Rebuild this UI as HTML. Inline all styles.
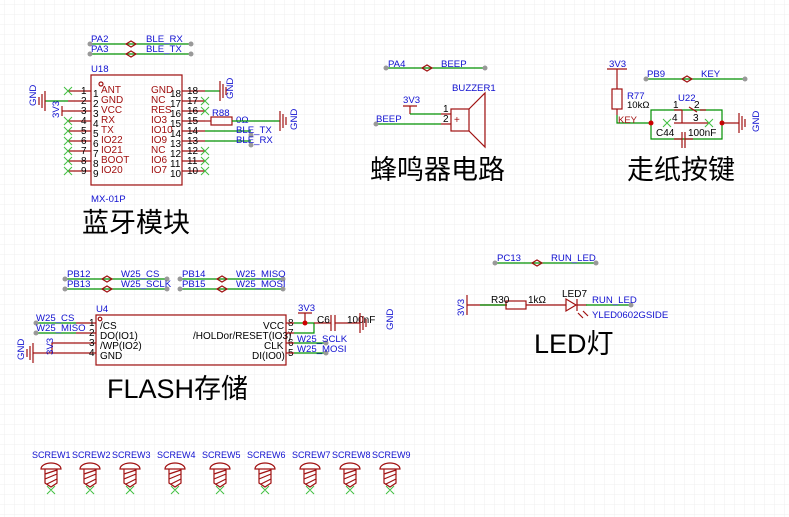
<!DOCTYPE html>
<html><head><meta charset="utf-8"><style>
html,body{margin:0;padding:0;background:#fff;}
svg{display:block;font-family:"Liberation Sans","Noto Sans CJK SC",sans-serif;}
.w{stroke:#009000;stroke-width:1.2;fill:none}
.r{stroke:#a01010;stroke-width:1.2;fill:none}
.n{fill:#1010d0;font-size:9.6px}
.p{fill:#000;font-size:10px}
.pn{fill:#a01010;font-size:10px}
.x{stroke:#40c040;stroke-width:1}
.d{fill:#999}
.t{fill:#000;font-size:27px}
</style></head><body>
<svg width="789" height="517" viewBox="0 0 789 517" xmlns="http://www.w3.org/2000/svg">
<defs>
<pattern id="g" x="4" y="4" width="10" height="10" patternUnits="userSpaceOnUse">
<path d="M10 0H0V10" fill="none" stroke="#efefef" stroke-width="1"/>
</pattern>
</defs>
<rect width="789" height="517" fill="url(#g)"/>

<line class="w" x1="90" y1="44" x2="191" y2="44"/><line class="w" x1="90" y1="54" x2="191" y2="54"/>
<path class="r" d="M126 44l5-3 5 3-5 3z M126 54l5-3 5 3-5 3z" fill="#fff"/>
<circle class="d" cx="90" cy="44" r="2.5"/><circle class="d" cx="191" cy="44" r="2.5"/>
<circle class="d" cx="90" cy="54" r="2.5"/><circle class="d" cx="191" cy="54" r="2.5"/>
<text class="n" x="91" y="42">PA2</text><text class="n" x="146" y="42">BLE_RX</text>
<text class="n" x="91" y="52">PA3</text><text class="n" x="146" y="52">BLE_TX</text>

<text class="n" x="91" y="72">U18</text>
<rect class="r" x="91" y="75" width="91" height="110"/>
<circle class="r" cx="101" cy="84" r="2"/>
<g class="r">
<line x1="68" y1="91" x2="91" y2="91"/><line x1="68" y1="101" x2="91" y2="101"/><line x1="68" y1="111" x2="91" y2="111"/><line x1="68" y1="121" x2="91" y2="121"/><line x1="68" y1="131" x2="91" y2="131"/><line x1="68" y1="141" x2="91" y2="141"/><line x1="68" y1="151" x2="91" y2="151"/><line x1="68" y1="161" x2="91" y2="161"/><line x1="68" y1="171" x2="91" y2="171"/>
<line x1="182" y1="91" x2="205" y2="91"/><line x1="182" y1="101" x2="205" y2="101"/><line x1="182" y1="111" x2="205" y2="111"/><line x1="182" y1="121" x2="205" y2="121"/><line x1="182" y1="131" x2="205" y2="131"/><line x1="182" y1="141" x2="205" y2="141"/><line x1="182" y1="151" x2="205" y2="151"/><line x1="182" y1="161" x2="205" y2="161"/><line x1="182" y1="171" x2="205" y2="171"/>
</g>
<g class="p">
<text x="81" y="94">1</text><text x="81" y="104">2</text><text x="81" y="114">3</text><text x="81" y="124">4</text><text x="81" y="134">5</text><text x="81" y="144">6</text><text x="81" y="154">7</text><text x="81" y="164">8</text><text x="81" y="174">9</text>
<text x="93" y="97">1</text><text x="93" y="107">2</text><text x="93" y="117">3</text><text x="93" y="127">4</text><text x="93" y="137">5</text><text x="93" y="147">6</text><text x="93" y="157">7</text><text x="93" y="167">8</text><text x="93" y="177">9</text>
<text x="187" y="94">18</text><text x="187" y="104">17</text><text x="187" y="114">16</text><text x="187" y="124">15</text><text x="187" y="134">14</text><text x="187" y="144">13</text><text x="187" y="154">12</text><text x="187" y="164">11</text><text x="187" y="174">10</text>
<text x="170" y="97">18</text><text x="170" y="107">17</text><text x="170" y="117">16</text><text x="170" y="127">15</text><text x="170" y="137">14</text><text x="170" y="147">13</text><text x="170" y="157">12</text><text x="170" y="167">11</text><text x="170" y="177">10</text>
</g>
<g class="pn">
<text x="101" y="93">ANT</text><text x="101" y="103">GND</text><text x="101" y="113">VCC</text><text x="101" y="123">RX</text><text x="101" y="133">TX</text><text x="101" y="143">IO22</text><text x="101" y="153">IO21</text><text x="101" y="163">BOOT</text><text x="101" y="173">IO20</text>
<text x="151" y="93">GND</text><text x="151" y="103">NC</text><text x="151" y="113">RES</text><text x="151" y="123">IO3</text><text x="151" y="133">IO10</text><text x="151" y="143">IO9</text><text x="151" y="153">NC</text><text x="151" y="163">IO6</text><text x="151" y="173">IO7</text>
</g>
<g class="x">
<path d="M64 87l8 8M72 87l-8 8"/>
<path d="M64 127l8 8M72 127l-8 8M64 137l8 8M72 137l-8 8M64 147l8 8M72 147l-8 8M64 157l8 8M72 157l-8 8M64 167l8 8M72 167l-8 8"/>
<path d="M64 117l8 8M72 117l-8 8"/>
<path d="M201 97l8 8M209 97l-8 8M201 107l8 8M209 107l-8 8M201 147l8 8M209 147l-8 8M201 157l8 8M209 157l-8 8M201 167l8 8M209 167l-8 8"/>
</g>
<line class="w" x1="45" y1="101" x2="68" y2="101"/>
<path class="r" d="M45 91v20M42 94v14M39 97v8"/>
<text class="n" transform="translate(36,106) rotate(-90)">GND</text>
<line class="r" x1="62" y1="111" x2="68" y2="111"/><path class="r" d="M62 106v10"/>
<text class="n" transform="translate(59,118) rotate(-90)">3V3</text>
<line class="w" x1="205" y1="91" x2="220" y2="91"/>
<path class="r" d="M220 81v20M223 84v14M226 87v8"/>
<text class="n" transform="translate(233,99) rotate(-90)">GND</text>
<rect class="r" x="211" y="117" width="21" height="8"/>
<line class="r" x1="205" y1="121" x2="211" y2="121"/>
<text class="n" x="212" y="116">R88</text><text class="n" x="236" y="123">0Ω</text>
<line class="w" x1="232" y1="121" x2="280" y2="121"/>
<path class="r" d="M280 111v20M283 114v14M286 117v8"/>
<text class="n" transform="translate(297,130) rotate(-90)">GND</text>
<line class="w" x1="205" y1="131" x2="251" y2="131"/><line class="w" x1="205" y1="141" x2="251" y2="141"/>
<circle class="d" cx="251" cy="135" r="2.5"/><circle class="d" cx="251" cy="145" r="2.5"/>
<text class="n" x="236" y="133">BLE_TX</text><text class="n" x="236" y="143">BLE_RX</text>
<text class="n" x="91" y="202">MX-01P</text>
<text class="t" x="82" y="232">蓝牙模块</text>

<line class="w" x1="386" y1="68" x2="485" y2="68"/>
<path class="r" d="M422 68l5-3 5 3-5 3z" fill="#fff"/>
<circle class="d" cx="386" cy="68" r="2.5"/><circle class="d" cx="485" cy="68" r="2.5"/>
<text class="n" x="388" y="67">PA4</text><text class="n" x="441" y="67">BEEP</text>
<text class="n" x="452" y="91">BUZZER1</text>
<text class="n" x="403" y="103">3V3</text>
<path class="r" d="M403 106h14M410 106v8"/>
<path class="w" d="M410 114h31"/>
<path class="w" d="M376 124h65"/>
<path class="r" d="M441 114h10M441 124h10"/>
<circle class="d" cx="376" cy="124" r="2.5"/>
<text class="n" x="376" y="122">BEEP</text>
<text class="p" x="443" y="112">1</text><text class="p" x="443" y="122">2</text>
<rect class="r" x="451" y="109" width="18" height="22"/>
<path class="r" d="M469 109l16-16v54l-16-16"/>
<text class="pn" x="454" y="123">+</text>
<text class="t" x="370" y="179">蜂鸣器电路</text>

<text class="n" x="609" y="67">3V3</text>
<path class="r" d="M607 69h20M617 69v20"/>
<rect class="r" x="612" y="89" width="10" height="20"/>
<line class="r" x1="617" y1="109" x2="617" y2="115"/>
<path class="w" d="M617 115v8h34"/>
<text class="pn" x="618" y="123" style="font-size:9.5px">KEY</text>
<text class="n" x="627" y="99">R77</text><text class="p" x="627" y="108" style="font-size:9.5px">10kΩ</text>
<line class="w" x1="646" y1="79" x2="745" y2="79"/>
<path class="r" d="M682 79l5-3 5 3-5 3z" fill="#fff"/>
<circle class="d" cx="646" cy="79" r="2.5"/><circle class="d" cx="745" cy="79" r="2.5"/>
<text class="n" x="647" y="77">PB9</text><text class="n" x="701" y="77">KEY</text>
<path class="w" d="M651 123v-13h71v29h-71z"/>
<circle cx="651" cy="123" r="2.5" fill="#c00"/><circle cx="722" cy="123" r="2.5" fill="#c00"/>
<text class="n" x="678" y="101">U22</text>
<text class="p" x="673" y="108">1</text><text class="p" x="694" y="108">2</text>
<text class="p" x="672" y="121">4</text><text class="p" x="693" y="121">3</text>
<path class="r" d="M674 110h8M682 110v13M674 123h34M689 107l8 5M700 110h6"/>
<g class="x"><path d="M663 119l8 8M671 119l-8 8M705 119l8 8M713 119l-8 8"/></g>
<path class="r" d="M682 132v16M685 132v16M682 139h-8M685 139h8"/>
<text class="p" x="656" y="136">C44</text><text class="p" x="688" y="136">100nF</text>
<path class="r" d="M722 123h17M739 113v20M742 116v14M745 119v8"/>
<text class="n" transform="translate(759,132) rotate(-90)">GND</text>
<text class="t" x="627" y="179">走纸按键</text>

<line class="w" x1="65" y1="279" x2="167" y2="279"/><line class="w" x1="65" y1="289" x2="167" y2="289"/>
<line class="w" x1="180" y1="279" x2="283" y2="279"/><line class="w" x1="180" y1="289" x2="283" y2="289"/>
<path class="r" d="M102 279l5-3 5 3-5 3zM102 289l5-3 5 3-5 3zM217 279l5-3 5 3-5 3zM217 289l5-3 5 3-5 3z" fill="#fff"/>
<circle class="d" cx="65" cy="279" r="2.5"/><circle class="d" cx="167" cy="279" r="2.5"/><circle class="d" cx="65" cy="289" r="2.5"/><circle class="d" cx="167" cy="289" r="2.5"/>
<circle class="d" cx="180" cy="279" r="2.5"/><circle class="d" cx="283" cy="279" r="2.5"/><circle class="d" cx="180" cy="289" r="2.5"/><circle class="d" cx="283" cy="289" r="2.5"/>
<text class="n" x="67" y="277">PB12</text><text class="n" x="121" y="277">W25_CS</text>
<text class="n" x="67" y="287">PB13</text><text class="n" x="121" y="287">W25_SCLK</text>
<text class="n" x="182" y="277">PB14</text><text class="n" x="236" y="277">W25_MISO</text>
<text class="n" x="182" y="287">PB15</text><text class="n" x="236" y="287">W25_MOSI</text>

<text class="n" x="96" y="312">U4</text>
<rect class="r" x="96" y="315" width="190" height="50"/>
<circle class="r" cx="100" cy="319" r="1.8"/>
<line class="w" x1="36" y1="323" x2="76" y2="323"/><line class="w" x1="36" y1="333" x2="76" y2="333"/>
<circle class="d" cx="36" cy="323" r="2.5"/><circle class="d" cx="36" cy="333" r="2.5"/>
<text class="n" x="36" y="321">W25_CS</text><text class="n" x="36" y="331">W25_MISO</text>
<path class="r" d="M76 323h20M76 333h20M52 343h44M33 353h63M52 343v10"/>
<path class="r" d="M33 343v20M30 346v14M27 349v8"/>
<text class="n" transform="translate(24,360) rotate(-90)">GND</text>
<text class="n" transform="translate(53,355) rotate(-90)">3V3</text>
<g class="p"><text x="89" y="326">1</text><text x="89" y="336">2</text><text x="89" y="346">3</text><text x="89" y="356">4</text>
<text x="288" y="326">8</text><text x="288" y="336">7</text><text x="288" y="346">6</text><text x="288" y="356">5</text></g>
<g class="p"><text x="100" y="329">/CS</text><text x="100" y="339">DO(IO1)</text><text x="100" y="349">/WP(IO2)</text><text x="100" y="359">GND</text>
<text x="263" y="329">VCC</text><text x="193" y="339">/HOLDor/RESET(IO3)</text><text x="264" y="349">CLK</text><text x="252" y="359">DI(IO0)</text></g>
<path class="r" d="M286 323h8M286 333h8M286 343h8M286 353h8"/>
<path class="w" d="M294 323h20v10h-20M294 343h32M294 353h32"/>
<path class="r" d="M298 313h14M305 313v10M314 323h17M331 315v16M335 315v16M335 323h20"/>
<circle cx="305" cy="323" r="2.5" fill="#c00"/>
<circle class="d" cx="326" cy="343" r="2.5"/><circle class="d" cx="326" cy="353" r="2.5"/>
<text class="n" x="298" y="311">3V3</text>
<text class="p" x="317" y="323">C6</text><text class="p" x="347" y="323">100nF</text>
<path class="r" d="M355 323h5M360 313v20M363 316v14M366 319v8"/>
<text class="n" transform="translate(393,330) rotate(-90)">GND</text>
<text class="n" x="297" y="342">W25_SCLK</text><text class="n" x="297" y="352">W25_MOSI</text>
<text class="t" x="107" y="398">FLASH存储</text>

<line class="w" x1="495" y1="263" x2="596" y2="263"/>
<path class="r" d="M532 263l5-3 5 3-5 3z" fill="#fff"/>
<circle class="d" cx="495" cy="263" r="2.5"/><circle class="d" cx="596" cy="263" r="2.5"/>
<text class="n" x="497" y="261">PC13</text><text class="n" x="551" y="261">RUN_LED</text>
<path class="r" d="M467 295v20M467 305h40"/>
<text class="n" transform="translate(464,316) rotate(-90)">3V3</text>
<path class="w" d="M480 305h27"/>
<rect class="r" x="506" y="301" width="20" height="8"/>
<path class="r" d="M526 305h40M566 299v12l10-6zM577 299v12M577 305h10"/>
<path class="w" d="M586 305h45"/>
<circle class="d" cx="631" cy="305" r="2.5"/>
<path class="r" d="M578 313l5 5M583 311l5 5"/>
<text class="p" x="491" y="303">R30</text><text class="p" x="528" y="303">1kΩ</text>
<text class="p" x="562" y="297">LED7</text>
<text class="n" x="592" y="303">RUN_LED</text>
<text class="n" x="592" y="318">YLED0602GSIDE</text>
<text class="t" x="534" y="353">LED灯</text>

<g class="n" style="font-size:9px">
<text x="32" y="458">SCREW1</text><text x="72" y="458">SCREW2</text><text x="112" y="458">SCREW3</text><text x="157" y="458">SCREW4</text><text x="202" y="458">SCREW5</text><text x="247" y="458">SCREW6</text><text x="292" y="458">SCREW7</text><text x="332" y="458">SCREW8</text><text x="372" y="458">SCREW9</text>
</g>
<g class="r">
<path d="M41 469a10 6 0 0 1 20 0zM45 469v14l6 4 6-4v-14M45 474l12-4M45 479l12-5M47 484l10-5"/>
<path d="M80 469a10 6 0 0 1 20 0zM84 469v14l6 4 6-4v-14M84 474l12-4M84 479l12-5M86 484l10-5"/>
<path d="M120 469a10 6 0 0 1 20 0zM124 469v14l6 4 6-4v-14M124 474l12-4M124 479l12-5M126 484l10-5"/>
<path d="M165 469a10 6 0 0 1 20 0zM169 469v14l6 4 6-4v-14M169 474l12-4M169 479l12-5M171 484l10-5"/>
<path d="M210 469a10 6 0 0 1 20 0zM214 469v14l6 4 6-4v-14M214 474l12-4M214 479l12-5M216 484l10-5"/>
<path d="M255 469a10 6 0 0 1 20 0zM259 469v14l6 4 6-4v-14M259 474l12-4M259 479l12-5M261 484l10-5"/>
<path d="M300 469a10 6 0 0 1 20 0zM304 469v14l6 4 6-4v-14M304 474l12-4M304 479l12-5M306 484l10-5"/>
<path d="M340 469a10 6 0 0 1 20 0zM344 469v14l6 4 6-4v-14M344 474l12-4M344 479l12-5M346 484l10-5"/>
<path d="M380 469a10 6 0 0 1 20 0zM384 469v14l6 4 6-4v-14M384 474l12-4M384 479l12-5M386 484l10-5"/>
</g>
<g class="x">
<path d="M47 486l8 8M55 486l-8 8M86 486l8 8M94 486l-8 8M126 486l8 8M134 486l-8 8M171 486l8 8M179 486l-8 8M216 486l8 8M224 486l-8 8M261 486l8 8M269 486l-8 8M306 486l8 8M314 486l-8 8M346 486l8 8M354 486l-8 8M386 486l8 8M394 486l-8 8"/>
</g>
</svg>
</body></html>
